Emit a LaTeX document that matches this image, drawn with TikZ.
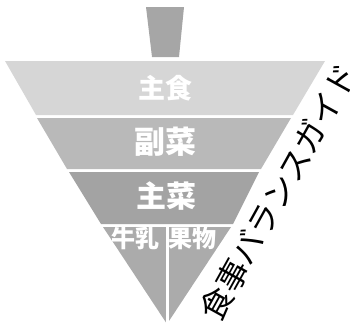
\documentclass[tikz,border=0pt]{standalone}
\usepackage{fontspec}
\newfontfamily\jp{Noto Sans CJK JP}

\begin{document}
\begin{tikzpicture}[x=1pt,y=-1pt,
		bandtext/.style={text=white,inner sep=0pt,font=\jp\bfseries\fontsize{#1}{#1}\selectfont},
		guidetext/.style={inner sep=0pt,rotate=61,font=\jp\fontsize{32}{32}\selectfont}]
		\useasboundingbox (0,0) rectangle (350,327);
		
		\fill[gray!70] (146,7) -- (184,7) -- (179,57) -- (152,57) -- cycle;
		
		\fill[gray!32] (5,61) -- (325,61) -- (293,115) -- (36,115) -- cycle;
		\fill[gray!55] (37,118) -- (291,118) -- (261,169) -- (67,169) -- cycle;
		\fill[gray!72] (69,172) -- (259,172) -- (233,224) -- (101,224) -- cycle;
		\fill[gray!66] (103,227) -- (231,227) -- (167,324) -- cycle;
		\fill[white] (165.5,227) rectangle (168.5,327);
		
		\node[bandtext=27] (shushoku) at (165,88) {主食};
		\node[bandtext=31] (fukusai) at (165,142) {副菜};
		\node[bandtext=30] (shusai) at (166,196) {主菜};
		\node[bandtext=24] (gyunyu) at (135,238) {牛乳};
		\node[bandtext=24] (kudamono) at (192,238) {果物};
		
		\node[guidetext] (guide) at (279,192) {食事バランスガイド};
	\end{tikzpicture}
\end{document}
